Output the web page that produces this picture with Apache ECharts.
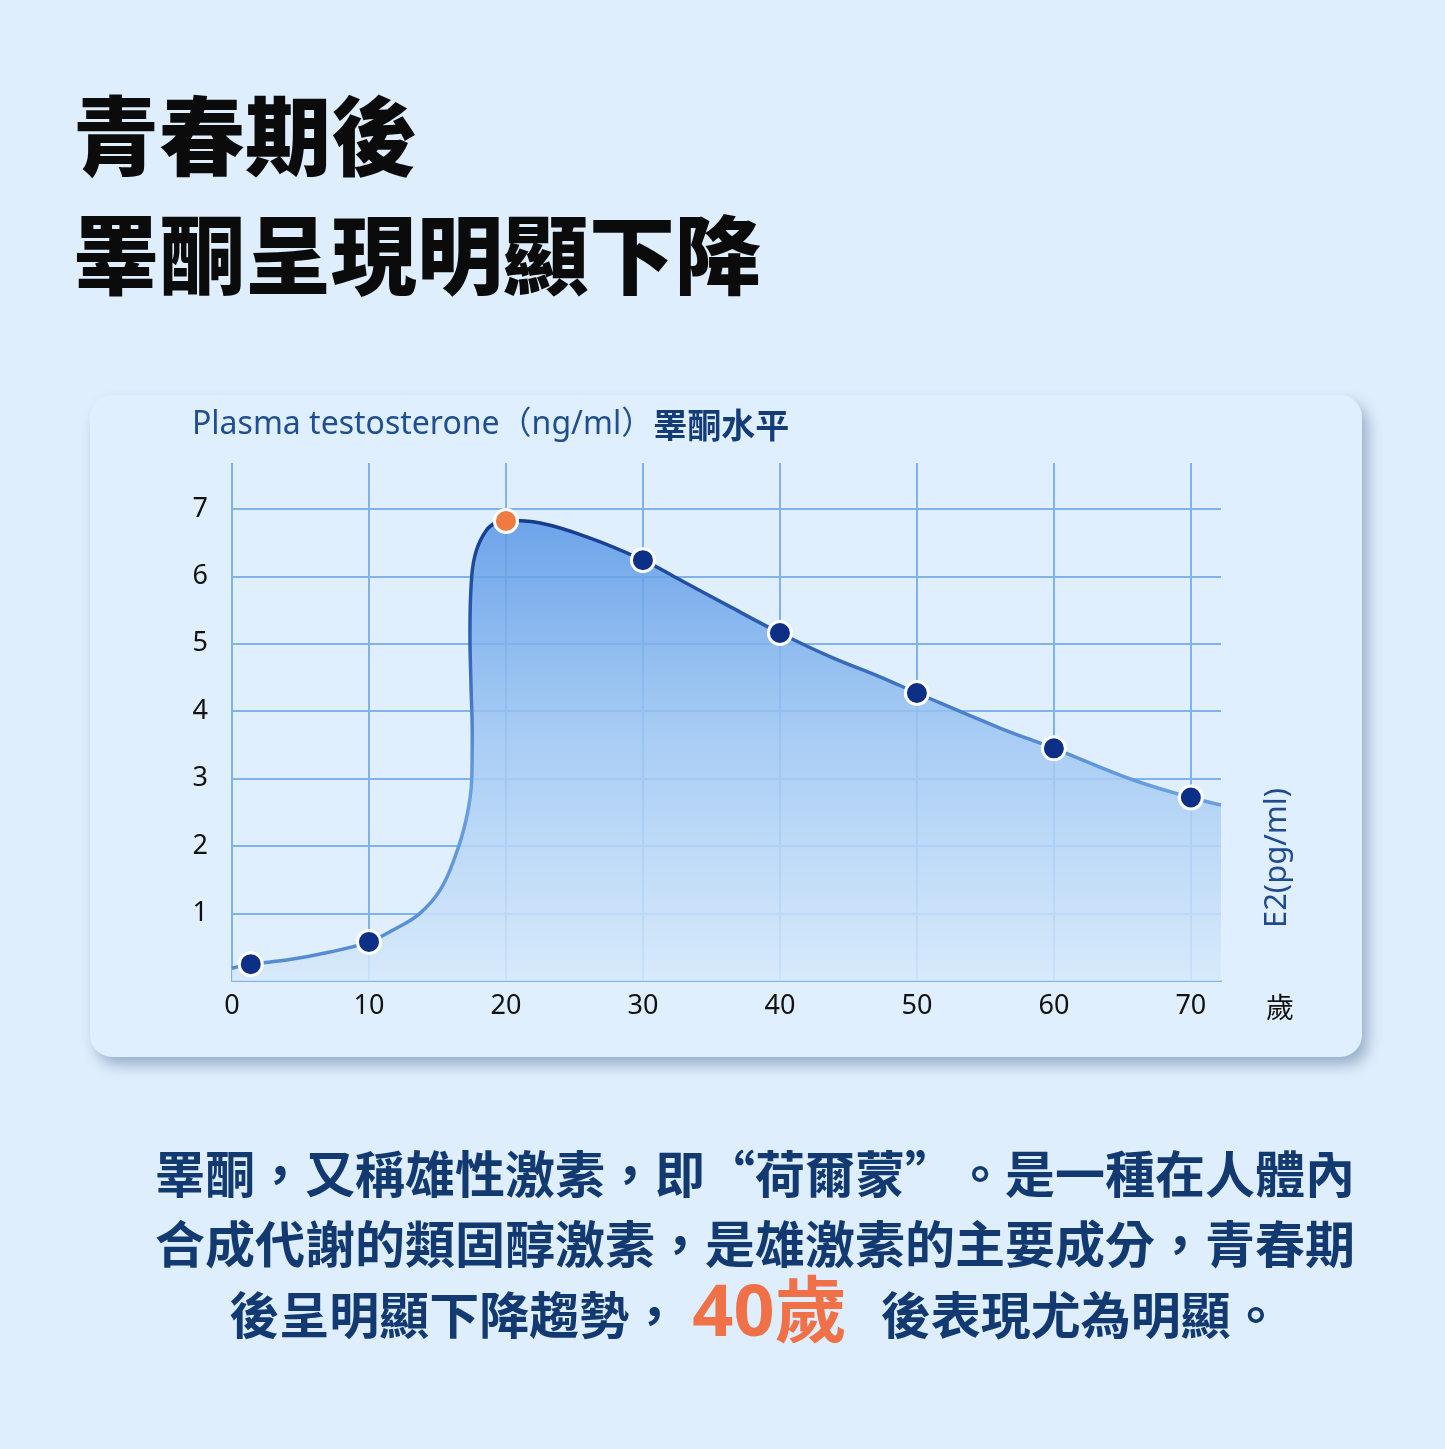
<!DOCTYPE html>
<html>
<head>
<meta charset="utf-8">
<script src="https://cdn.jsdelivr.net/npm/echarts@6/dist/echarts.min.js"></script>
<style>
html,body{margin:0;padding:0;background:#dfeefd;}
#chart{width:1445px;height:1449px;}
</style>
</head>
<body>
<div id="chart"></div>
<script>
// ---- data ----
const xTickValues = [0, 10, 20, 30, 40, 50, 60, 70];
const yTickValues = [1, 2, 3, 4, 5, 6, 7];
// traced points of the smooth testosterone curve (age, ng/ml)
const curveAge   = [0, 1.37, 4.0, 7.15, 10, 11.8, 13.7, 15.2, 16.3, 17.1, 17.5, 17.54, 17.45, 17.37, 17.5, 17.85, 18.6, 19.3, 20, 22.5, 26.1, 30, 32.7, 36.35, 40, 43.65, 47.3, 50, 56.06, 60, 65.8, 70, 72.2];
const curveLevel = [0.19, 0.25, 0.31, 0.43, 0.58, 0.76, 1.0, 1.35, 1.85, 2.4, 2.98, 3.67, 4.36, 5.16, 6.0, 6.39, 6.69, 6.80, 6.83, 6.79, 6.57, 6.24, 5.95, 5.55, 5.16, 4.81, 4.51, 4.27, 3.75, 3.45, 2.98, 2.72, 2.61];
// highlighted markers
const markerAge   = [1.37, 10, 20, 30, 40, 50, 60, 70];
const markerLevel = [0.25, 0.58, 6.82, 6.24, 5.16, 4.27, 3.45, 2.72];
const peakAge = 20;
// texts
const titleLines = ['青春期後', '睪酮呈現明顯下降'];
const yAxisName = 'Plasma testosterone（ng/ml）';
const yAxisNameCn = '睪酮水平';
const rightAxisName = 'E2(pg/ml)';
const xAxisUnit = '歲';
const paraLines = [
  '睪酮，又稱雄性激素，即“荷爾蒙”。是一種在人體內',
  '合成代謝的類固醇激素，是雄激素的主要成分，青春期'
];
const para3a = '後呈明顯下降趨勢，';
const para3b = '40歲';
const para3c = '後表現尤為明顯。';

const CJK = '"Noto Sans CJK TC", "Noto Sans CJK SC", sans-serif';
const LAT = '"Noto Sans", "Noto Sans CJK TC", sans-serif';
const NAVY = '#123a70';
const GRID = '#80b3ea';

const chart = echarts.init(document.getElementById('chart'), null, {renderer: 'canvas'});

const curveData = curveAge.map((a, i) => [a, curveLevel[i]]);
const markerData = markerAge.map((a, i) => {
  const item = {value: [a, markerLevel[i]]};
  if (a === peakAge) item.itemStyle = {color: '#f07a40'};
  return item;
});

chart.setOption({
  backgroundColor: '#dfeefd',
  animation: false,
  grid: {left: 232, right: 224, top: 463, bottom: 468, containLabel: false},
  xAxis: {
    type: 'value', min: 0, max: 72.2, interval: 10,
    axisLine: {show: true, lineStyle: {color: GRID, width: 2}},
    axisTick: {show: false},
    axisLabel: {
      color: '#111', fontSize: 27, fontFamily: LAT, margin: 12,
      showMaxLabel: false,
      formatter: v => (xTickValues.indexOf(v) >= 0 ? String(v) : '')
    },
    splitLine: {show: true, showMinLine: true, showMaxLine: false, lineStyle: {color: GRID, width: 2}}
  },
  yAxis: {
    type: 'value', min: 0, max: 7.68, interval: 1,
    axisLine: {show: false},
    axisTick: {show: false},
    axisLabel: {
      color: '#111', fontSize: 27, fontFamily: LAT, margin: 24,
      showMaxLabel: false,
      formatter: v => (yTickValues.indexOf(v) >= 0 ? String(v) : '')
    },
    splitLine: {show: true, showMinLine: false, showMaxLine: false, lineStyle: {color: GRID, width: 2}}
  },
  series: [
    {
      type: 'line',
      data: curveData,
      smooth: 0.4,
      showSymbol: false,
      symbol: 'none',
      z: 3,
      lineStyle: {
        width: 3.5,
        color: {type: 'linear', x: 0, y: 0, x2: 0, y2: 1, colorStops: [
          {offset: 0, color: '#143a8c'},
          {offset: 0.3, color: '#3366b8'},
          {offset: 0.6, color: '#6aa0e2'},
          {offset: 1, color: '#5589d2'}
        ]}
      },
      areaStyle: {
        opacity: 0.85,
        color: {type: 'linear', x: 0, y: 0, x2: 0, y2: 1, colorStops: [
          {offset: 0, color: '#5896e6'},
          {offset: 0.45, color: '#9cc5f2'},
          {offset: 1, color: '#d6e9fb'}
        ]}
      }
    },
    {
      type: 'scatter',
      data: markerData,
      symbolSize: 23,
      z: 5,
      itemStyle: {color: '#0e2f86', opacity: 1, borderColor: '#ffffff', borderWidth: 3}
    }
  ],
  graphic: [
    {
      type: 'rect', z: -10,
      shape: {x: 90, y: 395, width: 1272, height: 662, r: 22},
      style: {fill: '#e0effd', shadowColor: 'rgba(70,100,140,0.45)', shadowBlur: 14, shadowOffsetX: 6, shadowOffsetY: 8}
    },
    {
      type: 'text', x: 73, y: 136,
      style: {text: titleLines[0], font: '900 86px ' + CJK, fill: '#0b0b0b', verticalAlign: 'middle'}
    },
    {
      type: 'text', x: 73, y: 255,
      style: {text: titleLines[1], font: '900 86px ' + CJK, fill: '#0b0b0b', verticalAlign: 'middle'}
    },
    {
      type: 'text', x: 192, y: 425,
      style: {
        text: '{a|' + yAxisName + '}{b|' + yAxisNameCn + '}',
        verticalAlign: 'middle',
        rich: {
          a: {fontSize: 32, fontFamily: LAT, fill: '#1f4f90', color: '#1f4f90'},
          b: {fontSize: 34, fontWeight: 'bold', fontFamily: CJK, fill: '#143d78', color: '#143d78'}
        }
      }
    },
    {
      type: 'text', x: 1277, y: 858, rotation: Math.PI / 2,
      style: {text: rightAxisName, fontSize: 31, fontFamily: LAT, fill: '#1f4a8c', align: 'center', verticalAlign: 'middle'}
    },
    {
      type: 'text', x: 1280, y: 1007,
      style: {text: xAxisUnit, fontSize: 28, fontFamily: CJK, fill: '#111', align: 'center', verticalAlign: 'middle'}
    },
    {
      type: 'text', x: 755, y: 1174,
      style: {text: paraLines[0], font: 'bold 50px ' + CJK, fill: NAVY, align: 'center', verticalAlign: 'middle'}
    },
    {
      type: 'text', x: 755, y: 1244,
      style: {text: paraLines[1], font: 'bold 50px ' + CJK, fill: NAVY, align: 'center', verticalAlign: 'middle'}
    },
    {
      type: 'text', x: 755, y: 1315,
      style: {
        text: '{a|' + para3a + '}{o|' + para3b + '}{a|' + para3c + '}',
        align: 'center', verticalAlign: 'middle',
        rich: {
          a: {fontSize: 50, fontWeight: 'bold', fontFamily: CJK, fill: NAVY, color: NAVY},
          o: {fontSize: 72, fontWeight: 'bold', fontFamily: LAT, fill: '#f07048', color: '#f07048', padding: [0, 34, 0, 13]}
        }
      }
    }
  ]
});
</script>
</body>
</html>
